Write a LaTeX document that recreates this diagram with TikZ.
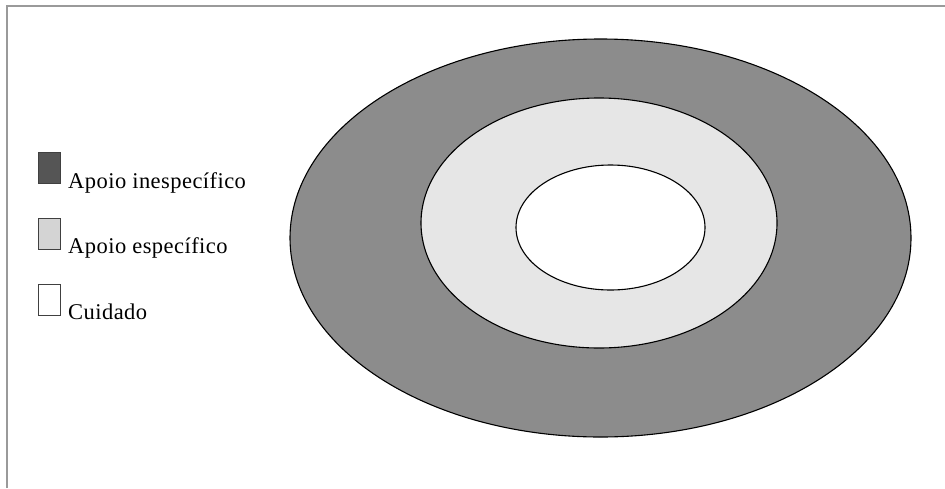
\documentclass[tikz,border=0pt]{standalone}
\usepackage{fontspec}
\setmainfont{Liberation Serif}[LetterSpace=2]
\definecolor{outergray}{HTML}{8C8C8C}
\definecolor{midgray}{HTML}{E6E6E6}
\definecolor{keydark}{HTML}{555555}
\definecolor{keylight}{HTML}{D4D4D4}
\definecolor{framegray}{HTML}{9A9A9A}
\begin{document}
\begin{tikzpicture}[x=1pt,y=-1pt,
  ring/.style={draw=black,line width=1.1pt},
  keybox/.style={draw=black!75,line width=1.4pt,minimum width=22pt,minimum height=31pt,inner sep=0pt,anchor=north west},
  keytext/.style={font=\fontsize{22.5}{25}\selectfont,anchor=base west,inner sep=0pt}]
\useasboundingbox (0,0) rectangle (945,488);
\fill[white] (0,0) rectangle (945,488);
\draw[framegray,line width=1.6pt] (7,488) -- (7,6) -- (945,6);
% rings
\draw[ring,fill=outergray] (600.5,238) ellipse [x radius=310.5,y radius=199];
\draw[ring,fill=midgray] (599,223) ellipse [x radius=178,y radius=125];
\draw[ring,fill=white] (610.5,227.5) ellipse [x radius=94.5,y radius=62.5];
% legend
\node[keybox,fill=keydark] (k1) at (38,152) {};
\node[keybox,fill=keylight] (k2) at (38,218) {};
\node[keybox,fill=white] (k3) at (38,284) {};
\node[keytext] (t1) at (68,188) {Apoio inespecífico};
\node[keytext] (t2) at (68,253) {Apoio específico};
\node[keytext] (t3) at (68,319) {Cuidado};
\end{tikzpicture}
\end{document}
